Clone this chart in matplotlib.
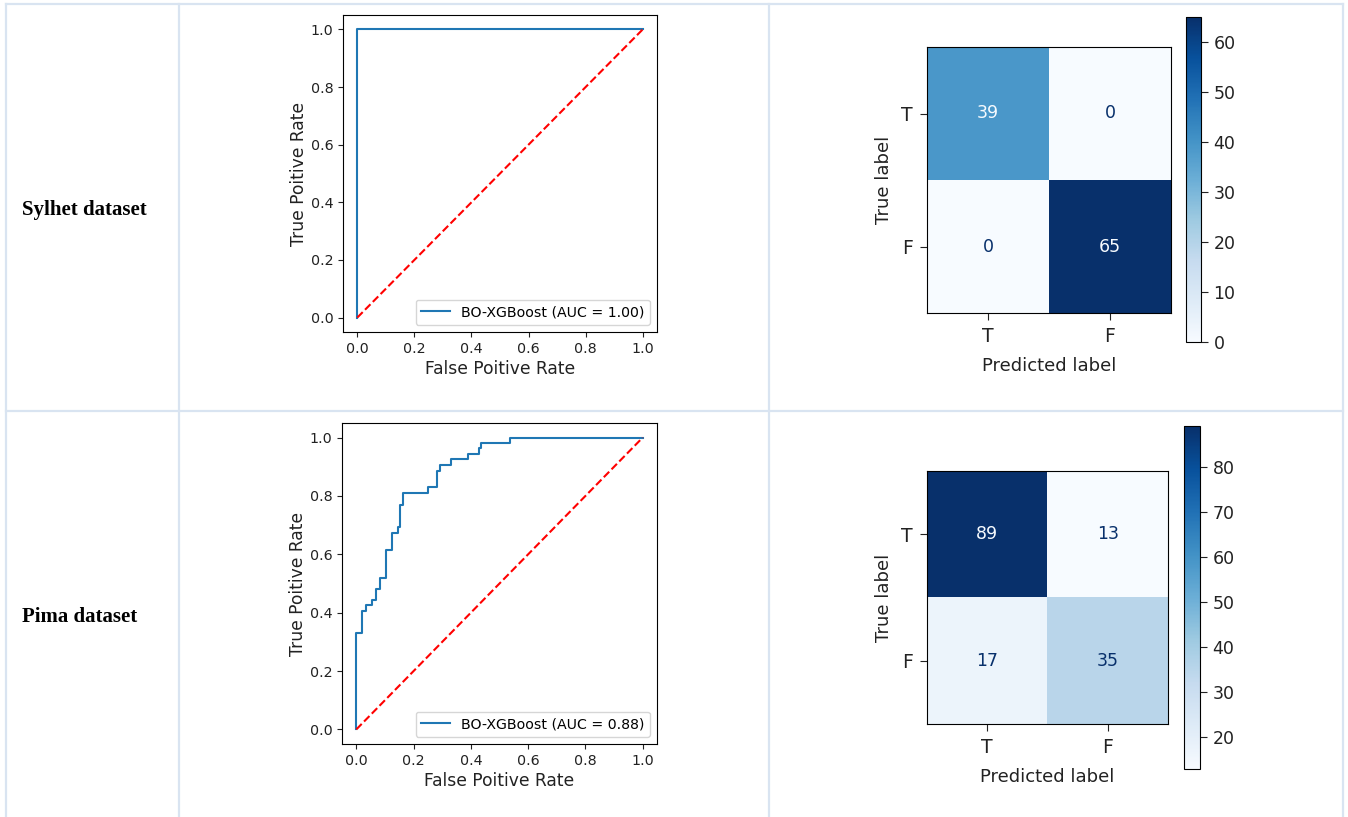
import numpy as np
import matplotlib
matplotlib.use("Agg")
import matplotlib.pyplot as plt

# data
row_names = ['Sylhet dataset', 'Pima dataset']
class_labels = ['T', 'F']
legend_label = 'BO-XGBoost (AUC = {})'
auc_values = ['1.00', '0.88']

sylhet_fpr = [0, 0, 1.0]
sylhet_tpr = [0, 1.0, 1.0]

pima_fpr = [0, 0, 0.019, 0.035, 0.056, 0.068, 0.084, 0.105, 0.126, 0.145, 0.152,
            0.164, 0.25, 0.28, 0.292, 0.33, 0.39, 0.428, 0.437, 0.537, 1.0]
pima_tpr = [0, 0.33, 0.407, 0.425, 0.443, 0.48, 0.52, 0.616, 0.673, 0.693, 0.77,
            0.81, 0.83, 0.886, 0.907, 0.925, 0.945, 0.964, 0.98, 1.0, 1.0]

sylhet_cm = [[39, 0], [0, 65]]
pima_cm = [[89, 13], [17, 35]]

W, H = 1348, 817
fig = plt.figure(figsize=(W / 100, H / 100), dpi=100)


def px_axes(left, top, right, bottom):
    return fig.add_axes([left / W, 1 - bottom / H, (right - left) / W, (bottom - top) / H])


# table grid in the background
bg = fig.add_axes([0, 0, 1, 1], zorder=-1)
bg.set_xlim(0, W)
bg.set_ylim(H, 0)
bg.axis('off')
grid_col = '#d9e4f1'
for x in [6, 179, 769, 1343]:
    bg.plot([x, x], [4, H], color=grid_col, lw=1.6)
for y in [4, 411]:
    bg.plot([6, 1343], [y, y], color=grid_col, lw=1.6)

# row titles
fig.text(22 / W, 1 - 210 / H, row_names[0], fontfamily='Liberation Serif',
         fontweight='bold', fontsize=15, va='center')
fig.text(22 / W, 1 - 617 / H, row_names[1], fontfamily='Liberation Serif',
         fontweight='bold', fontsize=15, va='center')

tick_col = '#222222'


# ROC curves
def draw_roc(ax, fpr, tpr, auc):
    ax.plot(fpr, tpr, drawstyle='steps-post', color='#1f77b4', lw=1.5,
            label=legend_label.format(auc))
    ax.plot([0, 1], [0, 1], 'r--', lw=1.5)
    ax.set_xlim(-0.05, 1.05)
    ax.set_ylim(-0.05, 1.05)
    ax.set_xticks(np.arange(0, 1.01, 0.2))
    ax.set_yticks(np.arange(0, 1.01, 0.2))
    ax.tick_params(labelsize=10.3, colors=tick_col)
    ax.set_xlabel('False Poitive Rate', fontsize=12.3, color=tick_col, labelpad=3)
    ax.set_ylabel('True Poitive Rate', fontsize=12.3, color=tick_col, labelpad=2)
    ax.legend(loc='lower right', fontsize=10.2)


ax1 = px_axes(343, 15, 657, 332)
draw_roc(ax1, sylhet_fpr, sylhet_tpr, auc_values[0])
ax3 = px_axes(342, 423, 657, 744)
draw_roc(ax3, pima_fpr, pima_tpr, auc_values[1])


# confusion matrices
def draw_cm(ax, cax, cm):
    cm = np.array(cm)
    im = ax.imshow(cm, cmap='Blues', aspect='auto', interpolation='nearest')
    cmap_min, cmap_max = im.cmap(0.0), im.cmap(1.0)
    thresh = (cm.max() + cm.min()) / 2.0
    for i in range(cm.shape[0]):
        for j in range(cm.shape[1]):
            col = cmap_min if cm[i, j] > thresh else cmap_max
            ax.text(j, i, str(cm[i, j]), ha='center', va='center', color=col, fontsize=12.5)
    ax.set_xticks([0, 1])
    ax.set_yticks([0, 1])
    ax.set_xticklabels(class_labels)
    ax.set_yticklabels(class_labels)
    ax.tick_params(labelsize=13.5, colors=tick_col, length=5, pad=5)
    ax.set_xlabel('Predicted label', fontsize=13, color=tick_col, labelpad=8)
    ax.set_ylabel('True label', fontsize=13, color=tick_col, labelpad=6)
    cb = fig.colorbar(im, cax=cax)
    cb.ax.tick_params(labelsize=12.5, colors=tick_col, length=5, pad=4)


ax2 = px_axes(927, 47, 1171, 313)
cax2 = px_axes(1186, 17, 1201, 342)
draw_cm(ax2, cax2, sylhet_cm)

ax4 = px_axes(927, 471, 1168, 724)
cax4 = px_axes(1184, 426, 1200, 769)
draw_cm(ax4, cax4, pima_cm)

fig.savefig('out.png', dpi=100)
